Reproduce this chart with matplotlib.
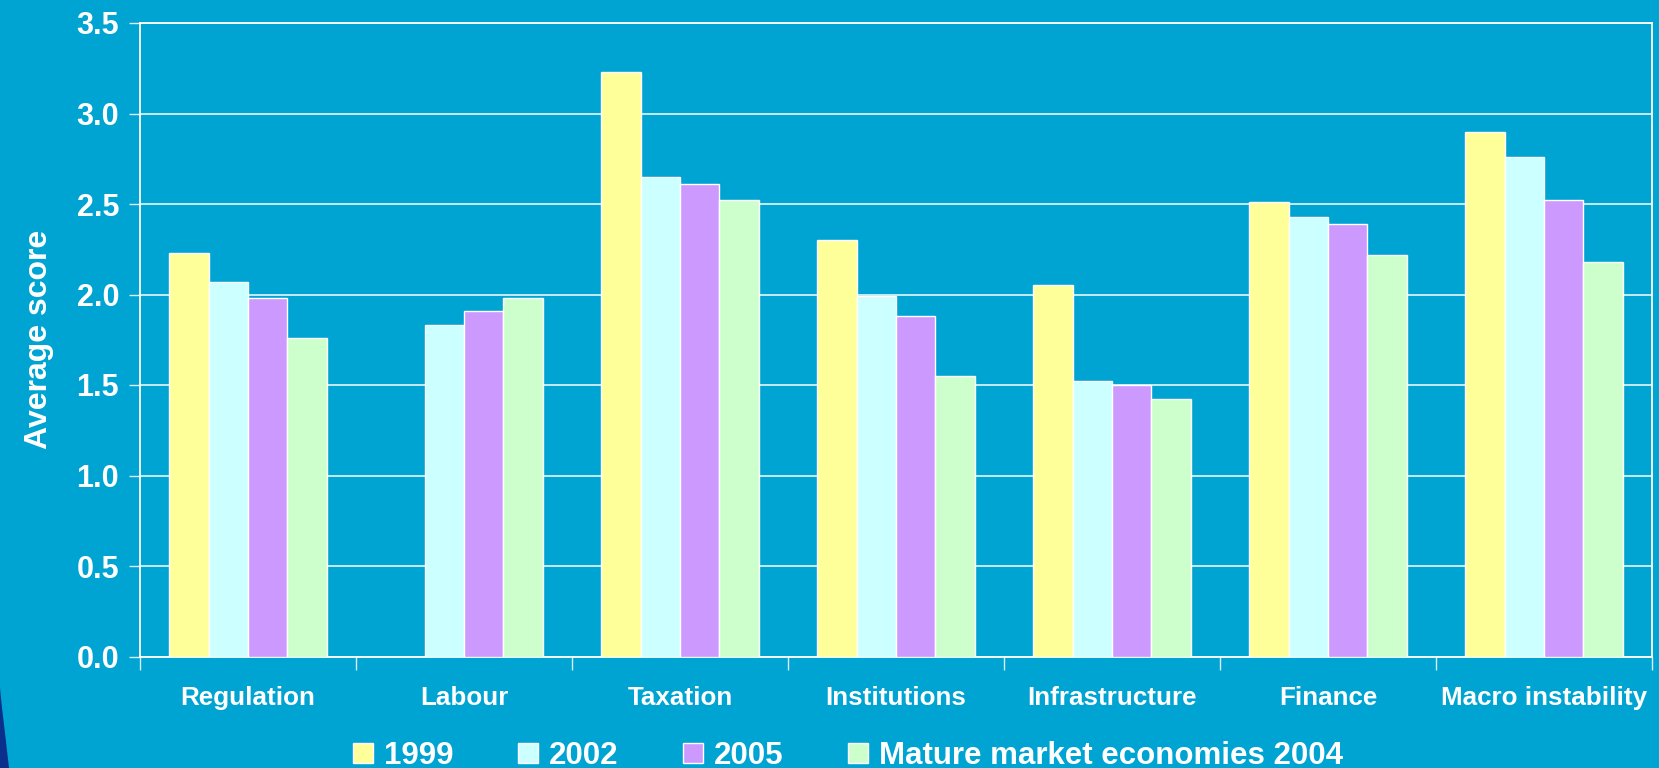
import matplotlib
matplotlib.use("Agg")
import matplotlib.pyplot as plt
import numpy as np
from matplotlib.patches import Polygon

categories = ["Regulation", "Labour", "Taxation", "Institutions",
              "Infrastructure", "Finance", "Macro instability"]
series_names = ["1999", "2002", "2005", "Mature market economies 2004"]
v1999 = [2.23, np.nan, 3.23, 2.30, 2.05, 2.51, 2.90]
v2002 = [2.07, 1.83, 2.65, 1.99, 1.52, 2.43, 2.76]
v2005 = [1.98, 1.91, 2.61, 1.88, 1.50, 2.39, 2.52]
vmature = [1.76, 1.98, 2.52, 1.55, 1.42, 2.22, 2.18]
y_ticks = [0.0, 0.5, 1.0, 1.5, 2.0, 2.5, 3.0, 3.5]
colors = ["#FFFF99", "#CCFFFF", "#CC99FF", "#CCFFCC"]
bg = "#00A4D2"

plt.rcParams['font.family'] = ['Liberation Sans', 'DejaVu Sans']
plt.rcParams['font.weight'] = 'bold'

fig = plt.figure(figsize=(16.59, 7.68), dpi=100, facecolor=bg)
ax = fig.add_axes([140/1659, 1-656.5/768, (1652-140)/1659, (656.5-23)/768])
ax.set_facecolor(bg)

# decorative dark corner at bottom-left
corner = Polygon([[0, 0], [0, 80/768], [2/1659, 60/768], [5/1659, 35/768], [9/1659, 0]],
                 closed=True, transform=fig.transFigure, facecolor="#0A2F8C",
                 edgecolor="none", zorder=0)
fig.patches.append(corner)

x = np.arange(len(categories))
w = 0.182
data = [v1999, v2002, v2005, vmature]
for i, (vals, c, name) in enumerate(zip(data, colors, series_names)):
    ax.bar(x + (i - 1.5) * w, vals, width=w, color=c, edgecolor="white",
           linewidth=1.0, label=name, zorder=3)

ax.set_xlim(-0.5, len(categories) - 0.5)
ax.set_ylim(0, 3.5)
ax.set_yticks(y_ticks)
ax.set_yticklabels([f"{t:.1f}" for t in y_ticks])
ax.set_xticks(x)
ax.set_xticklabels(categories)
ax.set_xticks(np.arange(len(categories) + 1) - 0.5, minor=True)

ax.tick_params(axis='x', which='major', length=0, pad=21, labelsize=18.7, colors='white')
ax.tick_params(axis='x', which='minor', length=9, width=1, color='#DDEEF5', direction='out')
ax.tick_params(axis='y', which='major', length=8, width=1, color='#DDEEF5', pad=7,
               labelsize=22, labelcolor='white')

ax.yaxis.grid(True, color='white', linewidth=1.2, alpha=0.9, zorder=1)
ax.set_axisbelow(True)
for s in ax.spines.values():
    s.set_color('white')
    s.set_linewidth(1.3)

ax.set_ylabel("Average score", fontsize=23, color='white', fontweight='bold', labelpad=16)

leg = fig.legend(loc='center', bbox_to_anchor=(848/1659, 1-756/768), ncol=4, frameon=False,
                 fontsize=22.5, handlelength=0.65, handleheight=0.65, handletextpad=0.35,
                 columnspacing=2.05, borderaxespad=0, borderpad=0)
for t in leg.get_texts():
    t.set_color('white')
    t.set_fontweight('bold')

fig.savefig("out.png", dpi=100, facecolor=bg)
